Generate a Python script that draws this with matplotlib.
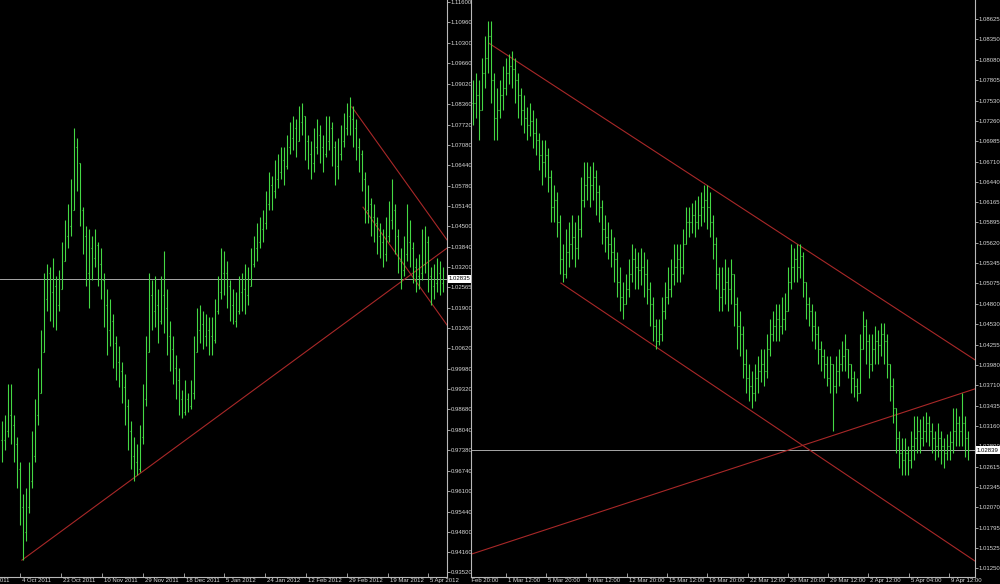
import matplotlib
matplotlib.use("Agg")
import matplotlib.pyplot as plt
import matplotlib.transforms as mtransforms
from matplotlib import font_manager
from matplotlib.collections import LineCollection
import numpy as np

_names = {f.name for f in font_manager.fontManager.ttflist}
if 'Liberation Sans Narrow' in _names:
    plt.rcParams['font.family'] = ['Liberation Sans Narrow', 'DejaVu Sans']
    FS = 5.3
else:
    plt.rcParams['font.family'] = ['Liberation Sans', 'DejaVu Sans']
    FS = 4.3

# ================= DATA (prices in units of 1e-4) =================
# ---- left chart (daily bars) ----
left_close = [9770, 9800, 9850, 9820, 9760, 9680, 9560, 9480, 9560, 9640,
              9720, 9850, 9920, 10050, 10220, 10300, 10240, 10260, 10200, 10250,
              10340, 10420, 10450, 10500, 10700, 10650, 10500, 10420, 10300, 10380,
              10350, 10390, 10330, 10280, 10200, 10120, 10150, 10080, 10020, 9990,
              9940, 9880, 9800, 9720, 9700, 9680, 9780, 9900, 10050, 10230,
              10180, 10200, 10150, 10230, 10190, 10100, 10060, 10000, 9960, 9900,
              9860, 9900, 9880, 9920, 10050, 10120, 10140, 10100, 10120, 10100,
              10090, 10180, 10240, 10300, 10300, 10260, 10200, 10150, 10180, 10240,
              10250, 10230, 10260, 10330, 10380, 10400, 10440, 10460, 10520, 10580,
              10560, 10600, 10620, 10660, 10640, 10700, 10730, 10760, 10720, 10780,
              10800, 10720, 10680, 10650, 10700, 10740, 10700, 10680, 10720, 10760,
              10700, 10640, 10680, 10720, 10760, 10800, 10790, 10760, 10700, 10680,
              10600, 10500, 10520, 10480, 10460, 10420, 10400, 10360, 10420, 10470,
              10500, 10420, 10340, 10310, 10360, 10400, 10380, 10320, 10290, 10300,
              10330, 10400, 10290, 10260, 10270, 10300, 10270, 10283.5]
left_high = [9830, 9850, 9950, 9950, 9850, 9780, 9700, 9600, 9620, 9700,
             9800, 9900, 10000, 10120, 10300, 10330, 10320, 10350, 10290, 10310,
             10400, 10470, 10520, 10600, 10760, 10730, 10620, 10510, 10450, 10440,
             10420, 10440, 10400, 10380, 10300, 10250, 10220, 10170, 10100, 10070,
             10020, 9980, 9900, 9830, 9780, 9760, 9820, 9950, 10100, 10300,
             10280, 10290, 10250, 10290, 10370, 10250, 10150, 10100, 10040, 10000,
             9930, 9960, 9920, 9960, 10100, 10190, 10200, 10180, 10170, 10160,
             10160, 10220, 10290, 10380, 10370, 10340, 10280, 10250, 10240, 10290,
             10300, 10330, 10320, 10380, 10420, 10460, 10480, 10500, 10560, 10620,
             10610, 10660, 10680, 10700, 10700, 10740, 10780, 10800, 10790, 10830,
             10840, 10800, 10740, 10720, 10760, 10790, 10770, 10740, 10800, 10800,
             10780, 10720, 10730, 10770, 10810, 10840, 10860, 10830, 10790, 10730,
             10690, 10620, 10580, 10540, 10520, 10480, 10460, 10440, 10480, 10530,
             10600, 10520, 10440, 10380, 10420, 10520, 10470, 10400, 10350, 10360,
             10440, 10450, 10420, 10320, 10330, 10350, 10340, 10320]
left_low = [9700, 9740, 9780, 9760, 9700, 9620, 9500, 9390, 9450, 9540,
            9620, 9700, 9820, 9950, 10150, 10180, 10150, 10130, 10120, 10180,
            10260, 10340, 10380, 10420, 10560, 10560, 10450, 10360, 10260, 10190,
            10280, 10320, 10260, 10220, 10130, 10040, 10070, 10000, 9960, 9940,
            9890, 9820, 9740, 9680, 9640, 9660, 9670, 9760, 9880, 10080,
            10120, 10130, 10080, 10140, 10110, 10040, 9990, 9950, 9900, 9850,
            9840, 9850, 9860, 9870, 9900, 10050, 10080, 10060, 10070, 10040,
            10040, 10080, 10170, 10220, 10230, 10190, 10150, 10140, 10130, 10170,
            10180, 10170, 10200, 10260, 10320, 10340, 10380, 10400, 10440, 10500,
            10500, 10540, 10570, 10600, 10580, 10630, 10680, 10690, 10670, 10720,
            10740, 10660, 10630, 10600, 10620, 10680, 10650, 10620, 10670, 10690,
            10640, 10580, 10600, 10660, 10700, 10740, 10740, 10700, 10660, 10620,
            10560, 10460, 10460, 10420, 10400, 10360, 10350, 10320, 10340, 10400,
            10440, 10360, 10300, 10250, 10290, 10340, 10320, 10270, 10240, 10250,
            10280, 10300, 10240, 10200, 10220, 10240, 10230, 10240]
left_last_price = 1.02835
left_y_labels = ["1.11600", "1.10960", "1.10300", "1.09660", "1.09020", "1.08360",
                 "1.07720", "1.07080", "1.06440", "1.05780", "1.05140", "1.04500",
                 "1.03840", "1.03200", "1.02565", "1.01900", "1.01260", "1.00620",
                 "0.99980", "0.99320", "0.98680", "0.98040", "0.97380", "0.96740",
                 "0.96100", "0.95440", "0.94800", "0.94160", "0.93520"]
left_x_labels = ["16 Sep 2011", "4 Oct 2011", "23 Oct 2011", "10 Nov 2011",
                 "29 Nov 2011", "18 Dec 2011", "5 Jan 2012", "24 Jan 2012",
                 "12 Feb 2012", "29 Feb 2012", "19 Mar 2012", "5 Apr 2012"]
# trend line anchors: (bar index, price)
left_trendlines = [((6.8, 0.9390), (148.5, 1.0380)),
                   ((116.8, 1.0828), (148.5, 1.0406)),
                   ((120.5, 1.0510), (148.5, 1.0136))]

# ---- right chart (H4 bars) ----
right_close = [10750, 10760, 10740, 10790, 10810, 10840, 10780, 10730, 10740, 10760,
               10770, 10790, 10800, 10795, 10780, 10760, 10740, 10730, 10720, 10725,
               10710, 10700, 10680, 10670, 10680, 10650, 10610, 10620, 10590, 10540,
               10520, 10550, 10560, 10570, 10555, 10580, 10620, 10640, 10650, 10640,
               10650, 10630, 10610, 10580, 10570, 10560, 10550, 10540, 10510, 10490,
               10480, 10500, 10520, 10540, 10530, 10525, 10530, 10520, 10500, 10480,
               10450, 10430, 10440, 10470, 10490, 10500, 10520, 10530, 10540, 10530,
               10560, 10590, 10590, 10600, 10590, 10600, 10610, 10620, 10610, 10590,
               10560, 10520, 10490, 10500, 10510, 10500, 10520, 10480, 10450, 10440,
               10400, 10380, 10370, 10360, 10380, 10390, 10400, 10390, 10420, 10440,
               10450, 10460, 10450, 10460, 10470, 10510, 10530, 10540, 10530, 10545,
               10510, 10480, 10470, 10450, 10440, 10420, 10410, 10400, 10380, 10400,
               10370, 10390, 10400, 10410, 10420, 10400, 10380, 10370, 10360, 10420,
               10450, 10430, 10400, 10420, 10430, 10425, 10440, 10430, 10400, 10370,
               10340, 10300, 10280, 10270, 10280, 10270, 10290, 10300, 10310, 10300,
               10310, 10320, 10310, 10300, 10290, 10300, 10290, 10280, 10290, 10295,
               10310, 10320, 10310, 10320, 10300, 10283.9]
right_high = [10780, 10790, 10780, 10810, 10840, 10860, 10860, 10790, 10770, 10780,
              10800, 10810, 10815, 10820, 10810, 10790, 10770, 10760, 10745, 10750,
              10740, 10730, 10710, 10700, 10700, 10690, 10660, 10640, 10630, 10600,
              10560, 10580, 10590, 10600, 10590, 10600, 10650, 10670, 10670, 10665,
              10670, 10660, 10640, 10620, 10600, 10590, 10580, 10570, 10550, 10530,
              10510, 10520, 10540, 10560, 10555, 10550, 10555, 10550, 10540, 10510,
              10490, 10460, 10460, 10490, 10510, 10530, 10540, 10560, 10560, 10560,
              10580, 10610, 10610, 10615, 10620, 10625, 10630, 10640, 10640, 10630,
              10600, 10570, 10530, 10530, 10540, 10530, 10540, 10520, 10490, 10470,
              10450, 10420, 10400, 10390, 10400, 10410, 10420, 10420, 10440, 10460,
              10470, 10480, 10480, 10490, 10495, 10530, 10560, 10555, 10560, 10560,
              10550, 10510, 10490, 10480, 10470, 10450, 10430, 10420, 10410, 10410,
              10400, 10410, 10420, 10430, 10440, 10420, 10400, 10390, 10380, 10440,
              10470, 10460, 10440, 10440, 10450, 10445, 10455, 10455, 10440, 10400,
              10380, 10340, 10310, 10300, 10300, 10290, 10310, 10330, 10330, 10325,
              10330, 10335, 10330, 10320, 10310, 10320, 10310, 10300, 10305, 10310,
              10340, 10340, 10330, 10360, 10330, 10310]
right_low = [10720, 10730, 10700, 10740, 10770, 10790, 10750, 10700, 10700, 10730,
             10740, 10760, 10775, 10770, 10750, 10730, 10720, 10710, 10700, 10705,
             10690, 10680, 10660, 10640, 10650, 10630, 10590, 10590, 10570, 10520,
             10510, 10515, 10530, 10540, 10530, 10540, 10570, 10610, 10620, 10610,
             10620, 10600, 10590, 10560, 10550, 10540, 10530, 10510, 10490, 10470,
             10460, 10480, 10490, 10510, 10500, 10500, 10505, 10490, 10480, 10450,
             10430, 10420, 10425, 10430, 10460, 10480, 10490, 10505, 10510, 10510,
             10520, 10560, 10570, 10575, 10570, 10580, 10585, 10590, 10580, 10570,
             10540, 10500, 10470, 10470, 10480, 10470, 10480, 10450, 10420, 10410,
             10380, 10360, 10350, 10340, 10350, 10360, 10375, 10370, 10380, 10410,
             10430, 10430, 10430, 10440, 10445, 10480, 10500, 10510, 10510, 10515,
             10490, 10460, 10450, 10430, 10420, 10400, 10390, 10380, 10370, 10360,
             10310, 10360, 10370, 10390, 10390, 10380, 10360, 10355, 10350, 10360,
             10420, 10400, 10380, 10390, 10400, 10400, 10410, 10400, 10380, 10350,
             10320, 10280, 10260, 10250, 10250, 10250, 10260, 10270, 10280, 10280,
             10290, 10295, 10290, 10280, 10270, 10275, 10265, 10260, 10270, 10270,
             10280, 10290, 10290, 10290, 10275, 10270]
right_last_price = 1.02839
right_y_labels = ["1.08625", "1.08350", "1.08080", "1.07805", "1.07530", "1.07260",
                  "1.06985", "1.06710", "1.06440", "1.06165", "1.05895", "1.05620",
                  "1.05345", "1.05075", "1.04800", "1.04530", "1.04255", "1.03980",
                  "1.03710", "1.03435", "1.03160", "1.02890", "1.02615", "1.02345",
                  "1.02070", "1.01795", "1.01525", "1.01250"]
right_x_labels = ["27 Feb 20:00", "1 Mar 12:00", "5 Mar 20:00", "8 Mar 12:00",
                  "12 Mar 20:00", "15 Mar 12:00", "19 Mar 20:00", "22 Mar 12:00",
                  "26 Mar 20:00", "29 Mar 12:00", "2 Apr 12:00", "5 Apr 04:00",
                  "9 Apr 12:00"]
right_trendlines = [((5.3, 1.0830), (167.3, 1.0405)),
                    ((29.3, 1.0508), (167.3, 1.0135)),
                    ((-0.7, 1.0144), (167.3, 1.0366))]

# ================= STYLE / LAYOUT =================
FG = '#d8d8d8'
AXC = '#b8b8b8'
BAR = '#44d844'
TREND = '#a82828'
HLINE = '#a8a8a8'

fig = plt.figure(figsize=(10.0, 5.84), dpi=100, facecolor='black')
FH = 584.0


def panel(px_left, px_width, xlim, ylim, close, high, low, ylabels, xlabels,
          xtick_idx, trendlines, last_price, show_left_spine):
    ax = fig.add_axes([px_left / 1000.0, 7 / FH, px_width / 1000.0, 577 / FH])
    ax.set_facecolor('black')
    ax.set_xlim(*xlim)
    ax.set_ylim(*ylim)

    c = np.array(close, dtype=float) / 1e4
    h = np.array(high, dtype=float) / 1e4
    l = np.array(low, dtype=float) / 1e4
    o = np.concatenate([[c[0]], c[:-1]])
    lo = np.minimum(np.minimum(l, o), c)
    hi = np.maximum(np.maximum(h, o), c)
    segs = []
    for i in range(len(c)):
        segs.append([(i, lo[i]), (i, hi[i])])
        segs.append([(i - 0.33, o[i]), (i, o[i])])
        segs.append([(i, c[i]), (i + 0.33, c[i])])
    ax.add_collection(LineCollection(segs, colors=BAR, linewidths=0.8, zorder=3))

    for (x0, p0), (x1, p1) in trendlines:
        ax.plot([x0, x1], [p0, p1], color=TREND, lw=0.8, zorder=2)
    ax.axhline(last_price, color=HLINE, lw=0.7, zorder=1)

    ax.spines['top'].set_visible(False)
    ax.spines['left'].set_visible(show_left_spine)
    for s in ['right', 'bottom', 'left']:
        ax.spines[s].set_color(AXC)
        ax.spines[s].set_linewidth(0.8)

    ax.yaxis.tick_right()
    ax.set_yticks([float(v) for v in ylabels])
    ax.set_yticklabels(ylabels)
    ax.tick_params(axis='y', direction='out', length=2, width=0.6, colors=AXC,
                   labelcolor=FG, labelsize=FS, pad=0.6)

    vis = [p for p in xtick_idx if xlim[0] <= p <= xlim[1]]
    ax.set_xticks(vis)
    ax.set_xticklabels([])
    ax.tick_params(axis='x', direction='in', length=3, width=0.6, colors=AXC)

    trans = mtransforms.blended_transform_factory(ax.transData, ax.transAxes)
    off = mtransforms.offset_copy(trans, fig=fig, x=2, y=-1.0, units='dots')
    clipbox = mtransforms.TransformedBbox(
        mtransforms.Bbox([[px_left / 1000.0, 0], [1, 1]]), fig.transFigure)
    for p, s in zip(xtick_idx, xlabels):
        t = fig.text(p, 0, s, transform=off, ha='left', va='top', fontsize=FS,
                     color=FG)
        t.set_clip_box(clipbox)
        t.set_clip_on(True)

    # current price marker on the price scale
    tr2 = mtransforms.blended_transform_factory(ax.transAxes, ax.transData)
    off2 = mtransforms.offset_copy(tr2, fig=fig, x=2.0, y=0, units='dots')
    ax.text(1.0, last_price, f"{last_price:.5f}", transform=off2, ha='left',
            va='center', fontsize=FS, color='black', clip_on=False, zorder=10,
            bbox=dict(boxstyle='square,pad=0.25', fc='white', ec='none'))
    return ax


left_ticks = [-9.0, 6.3, 19.9, 33.5, 47.1, 60.7, 74.3, 87.9, 101.5, 115.1, 128.7, 142.3]
right_ticks = [-4.1, 10.9, 24.35, 37.8, 51.2, 64.65, 78.1, 91.5, 104.95, 118.4, 131.8, 145.25, 158.7]

panel(0, 447, (-0.5, 148.5), (0.93365, 1.11673), left_close, left_high, left_low,
      left_y_labels, left_x_labels, left_ticks, left_trendlines, left_last_price, False)
panel(471, 504, (-2 / 3, 168 - 2 / 3), (1.01135, 1.08880), right_close, right_high,
      right_low, right_y_labels, right_x_labels, right_ticks, right_trendlines,
      right_last_price, True)

fig.savefig('out.png', dpi=100, facecolor='black')
